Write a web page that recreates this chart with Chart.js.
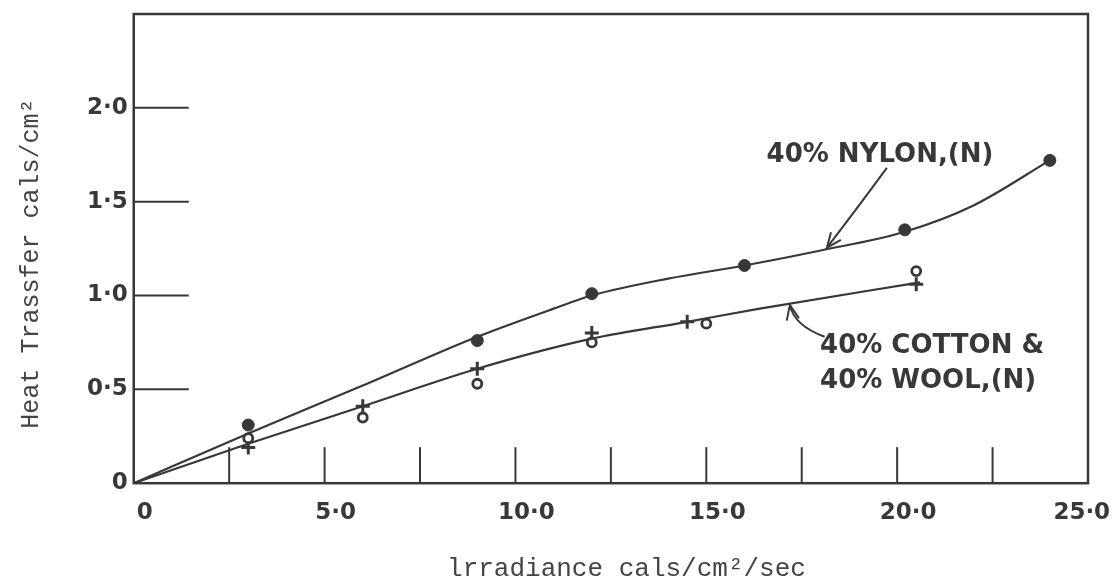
<!DOCTYPE html>
<html>
<head>
<meta charset="utf-8">
<script src="https://cdn.jsdelivr.net/npm/chart.js@4.4.1/dist/chart.umd.min.js"></script>
<style>
html, body { margin: 0; padding: 0; background: #fff; }
#wrap { width: 1118px; height: 585px; }
</style>
</head>
<body>
<div id="wrap"><canvas id="heatChart"></canvas></div>
<script>
// measured points
const nylonX = [3.0, 9.0, 12.0, 16.0, 20.2, 24.0];
const nylonY = [0.31, 0.76, 1.01, 1.16, 1.35, 1.72];
const cottonX = [3.0, 6.0, 9.0, 12.0, 15.0, 20.5];
const cottonY = [0.24, 0.35, 0.53, 0.75, 0.85, 1.13];
const woolX = [3.0, 6.0, 9.0, 12.0, 14.5, 20.5];
const woolY = [0.19, 0.41, 0.61, 0.80, 0.86, 1.06];

// hand drawn curves through the points
const nylonFitX = [0, 3, 6, 9, 11, 12, 14, 16, 18, 20.2, 22, 24];
const nylonFitY = [0, 0.265, 0.52, 0.78, 0.93, 1.0, 1.09, 1.16, 1.24, 1.34, 1.48, 1.72];
const blendFitX = [0, 3, 6, 9, 12, 14.5, 16.4, 20.6];
const blendFitY = [0, 0.21, 0.41, 0.61, 0.77, 0.86, 0.93, 1.07];

// axes
const xLabelValues = [0, 5, 10, 15, 20, 25];
const xLabelText = ['0', '5·0', '10·0', '15·0', '20·0', '25·0'];
const yLabelValues = [0, 0.5, 1.0, 1.5, 2.0];
const yLabelText = ['0', '0·5', '1·0', '1·5', '2·0'];
const xTickMarks = [2.5, 5, 7.5, 10, 12.5, 15, 17.5, 20, 22.5];
const yTickMarks = [0.5, 1.0, 1.5, 2.0];

const ink = '#383838';
const pts = (xs, ys) => xs.map((v, i) => ({ x: v, y: ys[i] }));

function arrow(ctx, x0, y0, cx, cy, x1, y1) {
    ctx.beginPath();
    ctx.moveTo(x0, y0);
    ctx.quadraticCurveTo(cx, cy, x1, y1);
    ctx.stroke();
    const ang = Math.atan2(y1 - cy, x1 - cx);
    const len = 16;
    ctx.beginPath();
    ctx.moveTo(x1 - len * Math.cos(ang - 0.4), y1 - len * Math.sin(ang - 0.4));
    ctx.lineTo(x1, y1);
    ctx.lineTo(x1 - len * Math.cos(ang + 0.4), y1 - len * Math.sin(ang + 0.4));
    ctx.stroke();
}

// frame, inward ticks and the hand lettered labels
const paperPlugin = {
    id: 'paper',
    afterDatasetsDraw(chart) {
        const { ctx, chartArea: a, scales: { x, y } } = chart;
        ctx.save();
        ctx.strokeStyle = ink;
        ctx.lineWidth = 2.5;
        ctx.strokeRect(a.left, a.top, a.right - a.left, a.bottom - a.top);
        ctx.lineWidth = 2;
        xTickMarks.forEach(v => {
            const px = x.getPixelForValue(v);
            ctx.beginPath(); ctx.moveTo(px, a.bottom); ctx.lineTo(px, a.bottom - 36); ctx.stroke();
        });
        yTickMarks.forEach(v => {
            const py = y.getPixelForValue(v);
            ctx.beginPath(); ctx.moveTo(a.left, py); ctx.lineTo(a.left + 55, py); ctx.stroke();
        });

        ctx.fillStyle = ink;
        ctx.font = 'bold 26px "DejaVu Sans"';
        ctx.textBaseline = 'middle';
        ctx.textAlign = 'center';
        ctx.fillText('40% NYLON,(N)', x.getPixelForValue(19.55), y.getPixelForValue(1.75));
        ctx.textAlign = 'left';
        ctx.fillText('40% COTTON &', x.getPixelForValue(17.98), y.getPixelForValue(0.73));
        ctx.fillText('40% WOOL,(N)', x.getPixelForValue(17.98), y.getPixelForValue(0.545));

        ctx.lineWidth = 2;
        arrow(ctx,
            x.getPixelForValue(19.73), y.getPixelForValue(1.68),
            x.getPixelForValue(18.9), y.getPixelForValue(1.45),
            x.getPixelForValue(18.16), y.getPixelForValue(1.255));
        arrow(ctx,
            x.getPixelForValue(18.1), y.getPixelForValue(0.78),
            x.getPixelForValue(17.3), y.getPixelForValue(0.84),
            x.getPixelForValue(17.19), y.getPixelForValue(0.95));
        ctx.restore();
    }
};

const ctx = document.getElementById('heatChart').getContext('2d');
const heatChart = new Chart(ctx, {
    type: 'scatter',
    data: {
        datasets: [
            {
                label: 'Nylon curve',
                data: pts(nylonFitX, nylonFitY),
                showLine: true,
                borderColor: ink,
                borderWidth: 2.2,
                pointRadius: 0,
                cubicInterpolationMode: 'monotone'
            },
            {
                label: 'Cotton & wool curve',
                data: pts(blendFitX, blendFitY),
                showLine: true,
                borderColor: ink,
                borderWidth: 2.2,
                pointRadius: 0,
                cubicInterpolationMode: 'monotone'
            },
            {
                label: '40% Nylon',
                data: pts(nylonX, nylonY),
                pointStyle: 'circle',
                pointRadius: 6,
                backgroundColor: ink,
                borderColor: ink,
                borderWidth: 1
            },
            {
                label: '40% Cotton',
                data: pts(cottonX, cottonY),
                pointStyle: 'circle',
                pointRadius: 4.5,
                backgroundColor: '#fff',
                borderColor: ink,
                borderWidth: 2.8
            },
            {
                label: '40% Wool',
                data: pts(woolX, woolY),
                pointStyle: 'cross',
                pointRadius: 7,
                borderColor: ink,
                borderWidth: 3
            }
        ]
    },
    options: {
        responsive: true,
        maintainAspectRatio: false,
        animation: false,
        layout: { padding: { top: 14, right: 30, left: 0, bottom: 0 } },
        plugins: {
            legend: { display: false },
            tooltip: { enabled: false }
        },
        scales: {
            x: {
                type: 'linear',
                min: 0,
                max: 25,
                afterBuildTicks: s => { s.ticks = xLabelValues.map(v => ({ value: v })); },
                afterFit: s => { s.paddingRight = 0; },
                grid: { display: false, drawTicks: false },
                border: { display: false },
                ticks: {
                    autoSkip: false,
                    maxRotation: 0,
                    padding: 16,
                    labelOffset: 11,
                    color: ink,
                    font: { family: 'DejaVu Sans', size: 23, weight: 'bold' },
                    // last label sits inside the frame corner
                    callback: v => xLabelText[xLabelValues.indexOf(v)] + (v === 25 ? '\u2003\u2002' : '')
                },
                title: {
                    display: true,
                    text: '  lrradiance cals/cm²/sec',
                    color: '#444',
                    font: { family: 'Liberation Mono', size: 26 },
                    padding: { top: 11, bottom: 0 }
                }
            },
            y: {
                type: 'linear',
                min: 0,
                max: 2.5,
                afterBuildTicks: s => { s.ticks = yLabelValues.map(v => ({ value: v })); },
                afterFit: s => { s.paddingTop = 0; },
                grid: { display: false, drawTicks: false },
                border: { display: false },
                ticks: {
                    autoSkip: false,
                    padding: 6,
                    color: ink,
                    font: { family: 'DejaVu Sans', size: 23, weight: 'bold' },
                    callback: v => yLabelText[yLabelValues.indexOf(v)]
                },
                title: {
                    display: true,
                    text: 'Heat Trassfer cals/cm²  ',
                    color: '#444',
                    font: { family: 'Liberation Mono', size: 25 },
                    padding: { top: 16, bottom: 35 }
                }
            }
        }
    },
    plugins: [paperPlugin]
});
</script>
</body>
</html>
